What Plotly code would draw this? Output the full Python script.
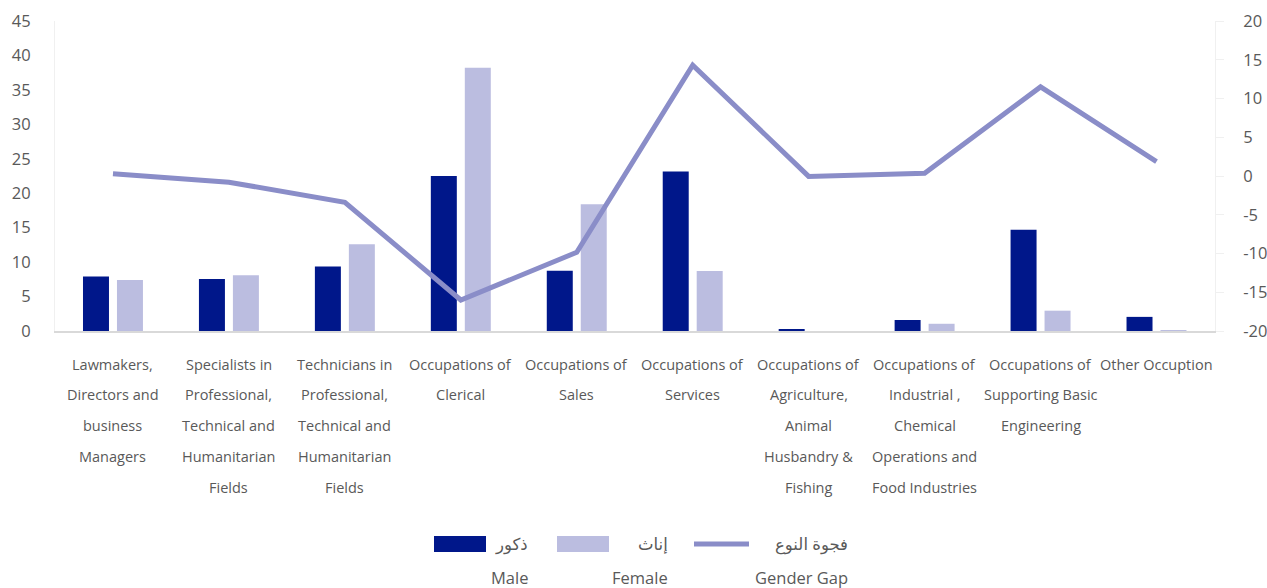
import plotly.graph_objects as go

categories = [
    "Lawmakers, Directors and business Managers",
    "Specialists in Professional, Technical and Humanitarian Fields",
    "Technicians in Professional, Technical and Humanitarian Fields",
    "Occupations of Clerical",
    "Occupations of Sales",
    "Occupations of Services",
    "Occupations of Agriculture, Animal Husbandry & Fishing",
    "Occupations of Industrial , Chemical Operations and Food Industries",
    "Occupations of Supporting Basic Engineering",
    "Other Occuption",
]
category_lines = [
    ["Lawmakers,", "Directors and", "business", "Managers"],
    ["Specialists in", "Professional,", "Technical and", "Humanitarian", "Fields"],
    ["Technicians in", "Professional,", "Technical and", "Humanitarian", "Fields"],
    ["Occupations of", "Clerical"],
    ["Occupations of", "Sales"],
    ["Occupations of", "Services"],
    ["Occupations of", "Agriculture,", "Animal", "Husbandry &", "Fishing"],
    ["Occupations of", "Industrial ,", "Chemical", "Operations and", "Food Industries"],
    ["Occupations of", "Supporting Basic", "Engineering"],
    ["Other Occuption"],
]
male = [7.9, 7.55, 9.35, 22.5, 8.75, 23.15, 0.2, 1.6, 14.7, 2.05]
female = [7.4, 8.1, 12.6, 38.2, 18.4, 8.7, 0.0, 1.05, 2.95, 0.12]
gender_gap = [0.3, -0.8, -3.4, -16.0, -9.85, 14.3, -0.05, 0.35, 11.5, 1.85]

left_ticks = [0, 5, 10, 15, 20, 25, 30, 35, 40, 45]
left_tick_labels = ["0", "5", "10", "15", "20", "25", "30", "35", "40", "45"]
right_ticks = [-20, -15, -10, -5, 0, 5, 10, 15, 20]
right_tick_labels = ["-20", "-15", "-10", "-5", "0", "5", "10", "15", "20"]

series_ar = ["ذكور", "إناث", "فجوة النوع"]
series_en = ["Male", "Female", "Gender Gap"]

MALE_C = "#00178a"
FEMALE_C = "#bbbde0"
LINE_C = "#8a8dc8"
TEXT_C = "#595959"
FONT = "Open Sans"

W, H = 1267, 588
L, R, T, B = 55, 52, 21, 257
PW = W - L - R
PH = H - T - B


def px(x):
    return (x - L) / PW


def py(y):
    return (H - B - y) / PH


fig = go.Figure()
fig.add_trace(go.Bar(x=categories, y=male, name=series_en[0], marker_color=MALE_C,
                     marker_line_width=0))
fig.add_trace(go.Bar(x=categories, y=female, name=series_en[1], marker_color=FEMALE_C,
                     marker_line_width=0))
fig.add_trace(go.Scatter(x=categories, y=gender_gap, name=series_en[2], mode="lines",
                         line=dict(color=LINE_C, width=5), yaxis="y2"))

annotations = []
line_y0 = 364
line_step = 30.8
for cat, lines in zip(categories, category_lines):
    for i, t in enumerate(lines):
        annotations.append(dict(
            x=cat, xref="x", y=py(line_y0 + i * line_step), yref="paper",
            text=t, showarrow=False, xanchor="center", yanchor="middle",
            font=dict(family=FONT, size=14.5, color=TEXT_C)))

# manual legend
legend_right = [530, 670, 850]
for i in range(3):
    annotations.append(dict(x=px(legend_right[i]), xref="paper", y=py(543), yref="paper",
                            text=series_ar[i], showarrow=False, xanchor="right",
                            yanchor="middle",
                            font=dict(family="Noto Sans, DejaVu Sans", size=16.5,
                                      color=TEXT_C)))
    annotations.append(dict(x=px(legend_right[i]), xref="paper", y=py(577), yref="paper",
                            text=series_en[i], showarrow=False, xanchor="right",
                            yanchor="middle",
                            font=dict(family=FONT, size=16.5, color=TEXT_C)))

shapes = [
    dict(type="rect", xref="paper", yref="paper", x0=px(434), x1=px(486), y0=py(552),
         y1=py(536), fillcolor=MALE_C, line_width=0),
    dict(type="rect", xref="paper", yref="paper", x0=px(557), x1=px(609), y0=py(552),
         y1=py(536), fillcolor=FEMALE_C, line_width=0),
    dict(type="line", xref="paper", yref="paper", x0=px(694), x1=px(749), y0=py(544),
         y1=py(544), line=dict(color=LINE_C, width=5)),
]

fig.update_layout(
    template="none",
    width=W, height=H, autosize=False,
    margin=dict(l=L, r=R, t=T, b=B, autoexpand=False),
    paper_bgcolor="white", plot_bgcolor="white",
    showlegend=False,
    barmode="group", bargap=0.414, bargroupgap=0.235,
    font=dict(family=FONT, color=TEXT_C),
    xaxis=dict(showticklabels=False, showline=True, linecolor="#d9d9d9", linewidth=2,
               showgrid=False, zeroline=False, ticks="", automargin=False),
    yaxis=dict(range=[0, 45], tickvals=left_ticks, ticktext=left_tick_labels,
               showgrid=False, zeroline=False, showline=True, automargin=False,
               linecolor="#f0f0f0", linewidth=1, ticks="",
               tickfont=dict(family=FONT, size=16.5, color=TEXT_C),
               ticklabelstandoff=20),
    yaxis2=dict(range=[-20, 20], tickvals=right_ticks, ticktext=right_tick_labels,
                overlaying="y", side="right", showgrid=False, automargin=False,
                zeroline=False, showline=True, linecolor="#f0f0f0", linewidth=1,
                ticks="outside", ticklen=8, tickcolor="#f0f0f0",
                tickfont=dict(family=FONT, size=16.5, color=TEXT_C),
                ticklabelstandoff=16),
    annotations=annotations,
    shapes=shapes,
)

fig.write_html("out.html",
               config={"displayModeBar": False, "responsive": False},
               post_script="document.body.style.margin='0';document.body.style.overflow='hidden';")
